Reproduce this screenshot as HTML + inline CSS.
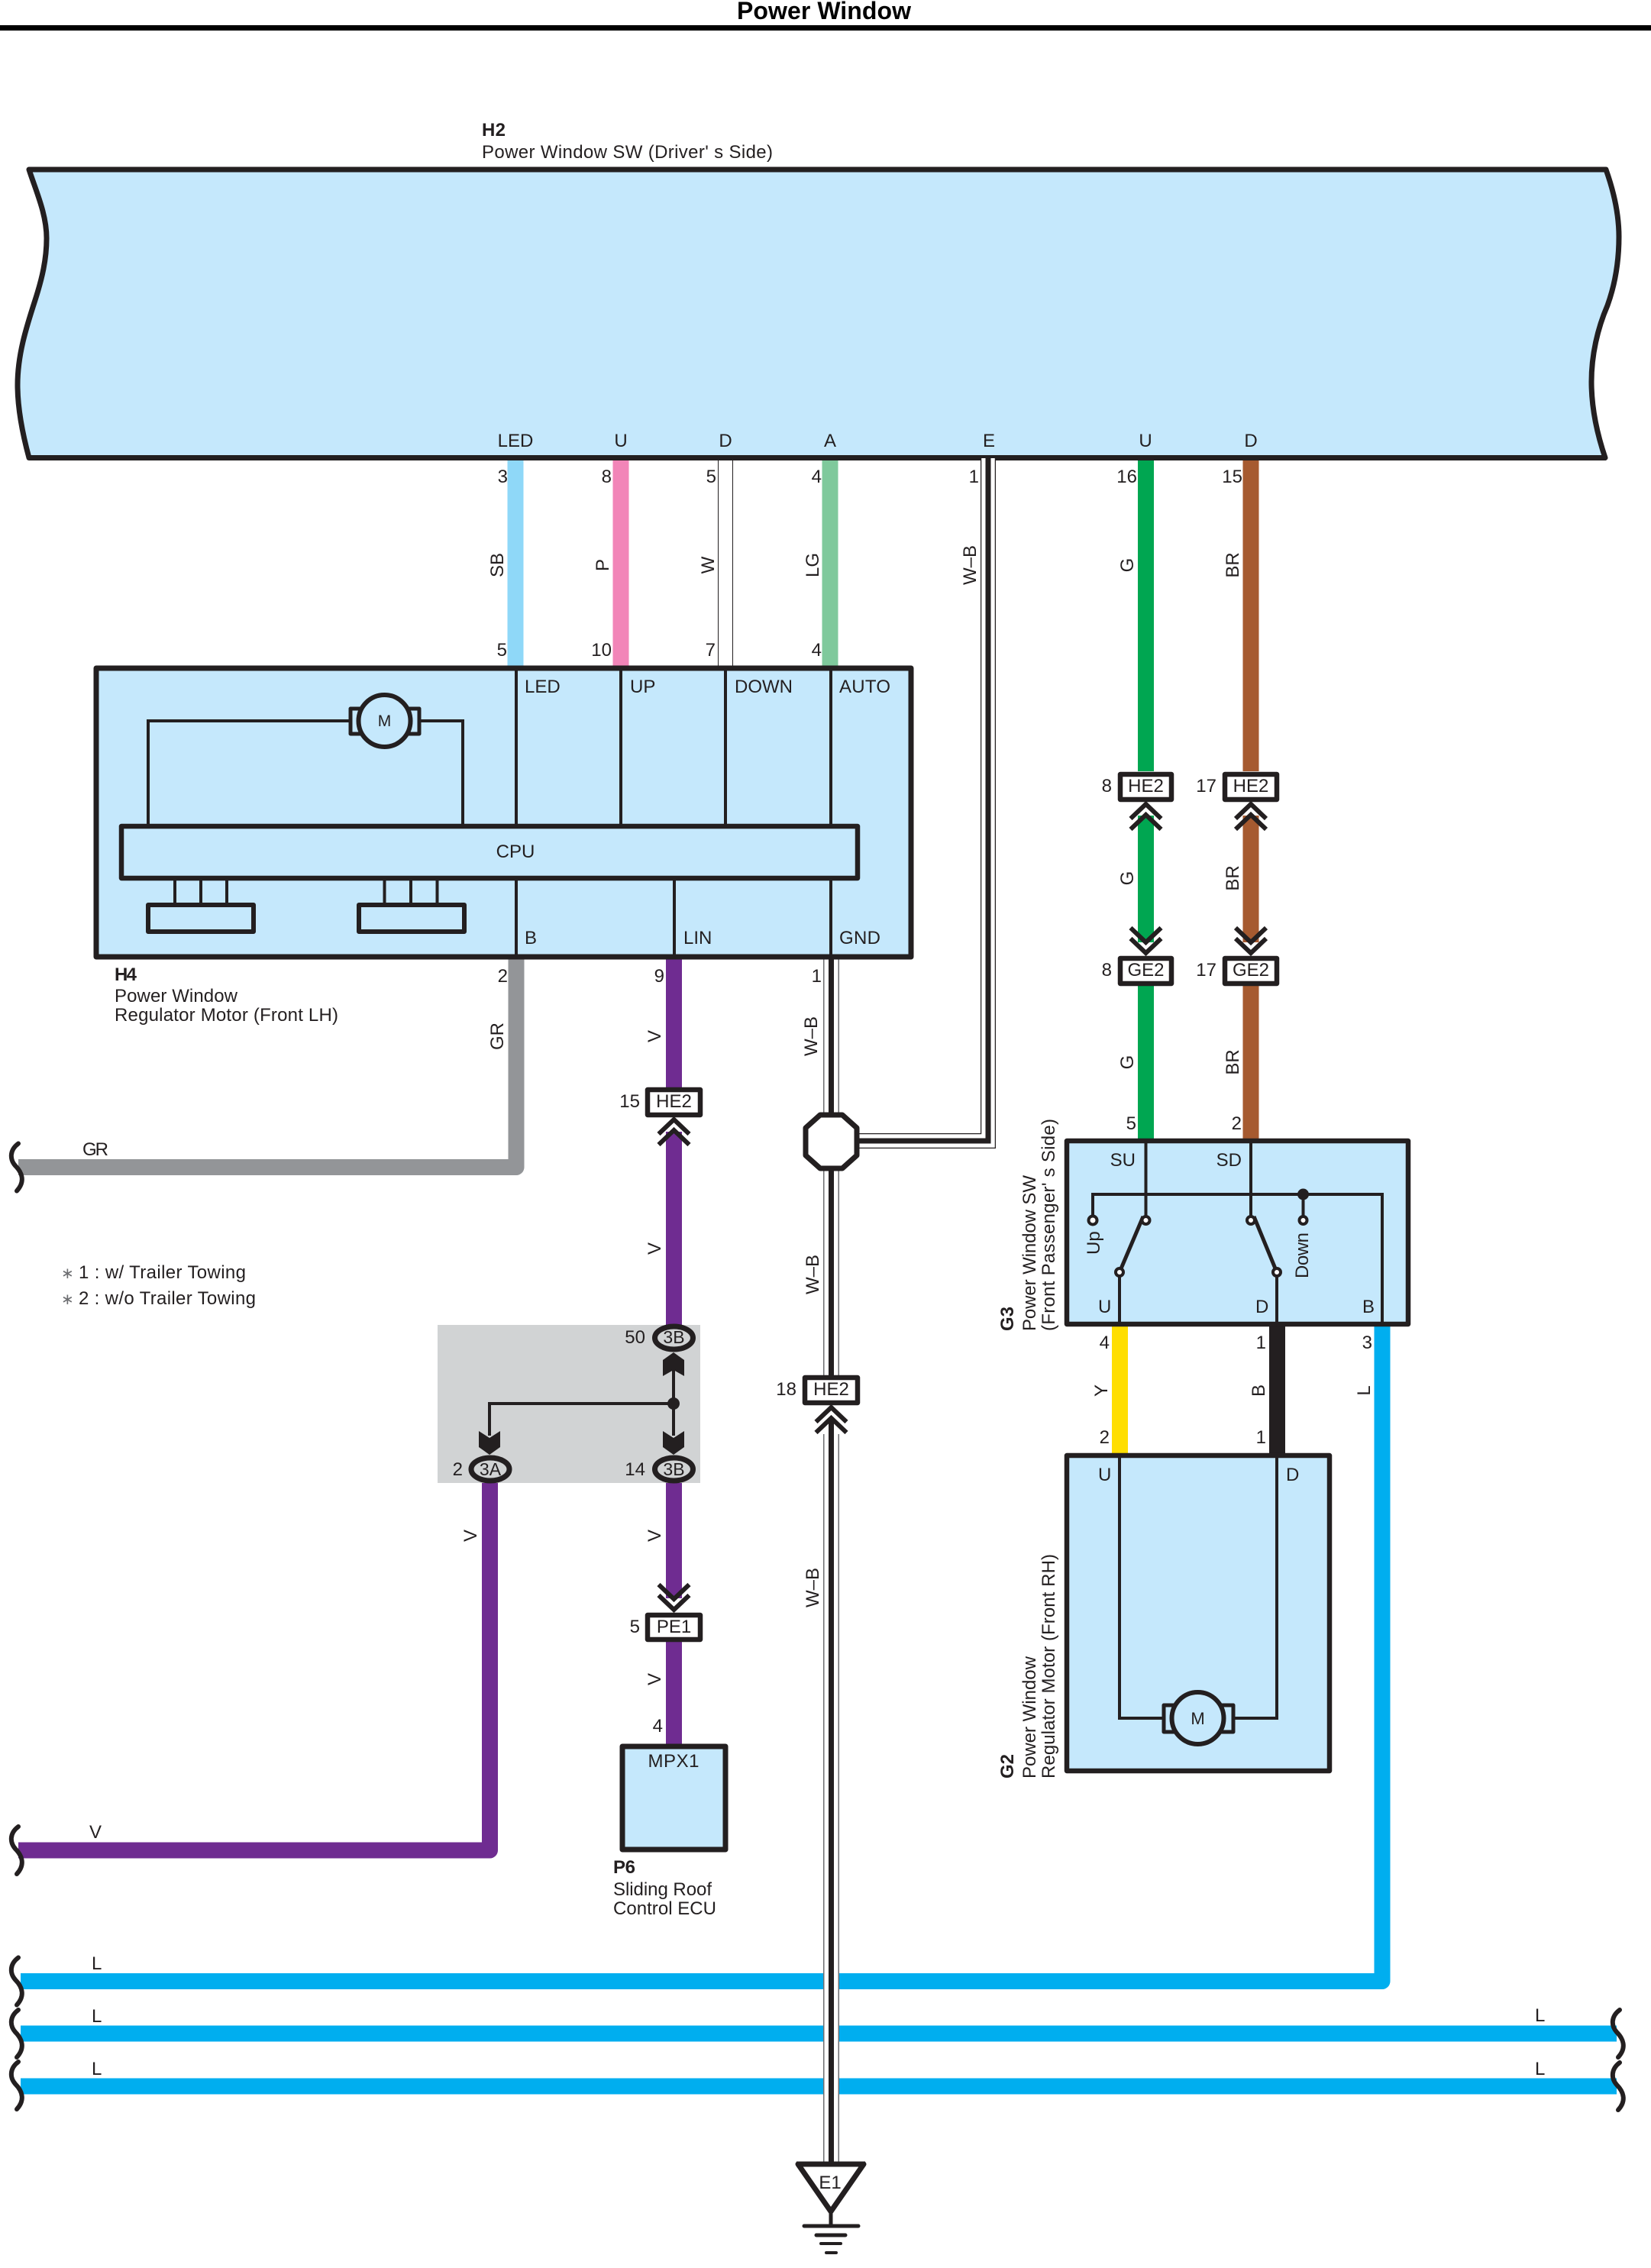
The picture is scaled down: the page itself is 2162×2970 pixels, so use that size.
<!DOCTYPE html>
<html>
<head>
<meta charset="utf-8">
<title>Power Window</title>
<style>
html,body{margin:0;padding:0;background:#fff}
svg{display:block}
text{font-family:"Liberation Sans",sans-serif;font-size:24px;fill:#231f20}
.m{text-anchor:middle}
.e{text-anchor:end}
.b{font-weight:bold}
.box{fill:#c5e8fc;stroke:#231f20;stroke-width:7;stroke-linejoin:round}
.ln{fill:none;stroke:#231f20;stroke-width:4}
.cn{fill:#fff;stroke:#231f20;stroke-width:6.5;stroke-linejoin:round}
.ov{fill:#d1d3d4;stroke:#231f20;stroke-width:7}
.w{fill:none;stroke-width:21;stroke-linejoin:round}
.sq{fill:none;stroke:#231f20;stroke-width:6;stroke-linecap:round}
.ch{fill:none;stroke:#231f20;stroke-width:6}
.t{fill:#fff;stroke:#231f20;stroke-width:4}
</style>
</head>
<body>
<svg xmlns="http://www.w3.org/2000/svg" width="2162" height="2970" viewBox="0 0 2162 2970">
<defs>
<path id="squig" d="M24 -31C12 -22 13 -10 20 -2C28 6 34 18 22 31"/>
<g id="chU"><path class="ch" d="M-20 20L0 1L20 20M-20 34L0 15L20 34"/></g>
<g id="chD"><path class="ch" d="M-20 -20L0 -1L20 -20M-20 -34L0 -15L20 -34"/></g>
<polygon id="arU" points="0,-2 14,8 14,29 0,21 -14,29 -14,8" fill="#231f20"/>
<polygon id="arD" points="-14,-1 0,8 14,-1 14,20 0,30 -14,20" fill="#231f20"/>
</defs>
<rect width="2162" height="2970" fill="#fff"/>

<!-- Title -->
<rect x="0" y="33" width="2162" height="7" fill="#000"/>
<text x="965" y="25" class="b" style="font-size:32px;fill:#000" textLength="228">Power Window</text>

<!-- H2 -->
<text x="631" y="178" class="b" textLength="31">H2</text>
<text x="631" y="207" textLength="381">Power Window SW (Driver' s Side)</text>
<path class="box" d="M38 222H2103C2113 250 2120 280 2120 310C2120 345 2114 375 2105 400C2092 430 2084 465 2084 500C2084 535 2092 570 2102 599.500H38C30 570 23 535 23 504C23 465 34 430 46 393C55 365 61 340 61 312C61 280 47 250 38 222Z"/>
<text x="675" y="585" class="m">LED</text>
<text x="813" y="585" class="m">U</text>
<text x="950" y="585" class="m">D</text>
<text x="1087" y="585" class="m">A</text>
<text x="1295" y="585" class="m">E</text>
<text x="1500" y="585" class="m">U</text>
<text x="1638" y="585" class="m">D</text>

<!-- Wires H2 to H4 -->
<line class="w" x1="675" y1="603" x2="675" y2="872" stroke="#8fd8f8"/>
<line class="w" x1="813" y1="603" x2="813" y2="872" stroke="#f285b8"/>
<line x1="950" y1="603" x2="950" y2="872" stroke="#231f20" stroke-width="20"/>
<line x1="950" y1="603" x2="950" y2="872" stroke="#fff" stroke-width="18"/>
<line class="w" x1="1087" y1="603" x2="1087" y2="872" stroke="#7fc99c"/>
<text x="665" y="632" class="e">3</text>
<text x="801" y="632" class="e">8</text>
<text x="938" y="632" class="e">5</text>
<text x="1076" y="632" class="e">4</text>
<text x="1282" y="632" class="e">1</text>
<text x="1489" y="632" class="e">16</text>
<text x="1627" y="632" class="e">15</text>
<text class="m" transform="translate(659,740) rotate(-90)">SB</text>
<text class="m" transform="translate(797,740) rotate(-90)">P</text>
<text class="m" transform="translate(935,740) rotate(-90)">W</text>
<text class="m" transform="translate(1072,740) rotate(-90)">LG</text>
<text class="m" transform="translate(1278,740) rotate(-90)">W–B</text>
<text class="m" transform="translate(1484,740) rotate(-90)">G</text>
<text class="m" transform="translate(1622,740) rotate(-90)">BR</text>
<text x="664" y="859" class="e">5</text>
<text x="801" y="859" class="e">10</text>
<text x="937" y="859" class="e">7</text>
<text x="1076" y="859" class="e">4</text>

<!-- Blue L bus -->
<path class="w" d="M27 2594.500H1810V1730" stroke="#00aeef"/>
<line class="w" x1="27" y1="2663" x2="2117" y2="2663" stroke="#00aeef"/>
<line class="w" x1="27" y1="2732" x2="2117" y2="2732" stroke="#00aeef"/>
<use href="#squig" class="sq" transform="translate(0,2594.500)"/>
<use href="#squig" class="sq" transform="translate(0,2663)"/>
<use href="#squig" class="sq" transform="translate(0,2731)"/>
<use href="#squig" class="sq" transform="translate(2097,2663)"/>
<use href="#squig" class="sq" transform="translate(2097,2732)"/>
<text x="120" y="2579">L</text>
<text x="120" y="2648">L</text>
<text x="120" y="2717">L</text>
<text x="2010" y="2647">L</text>
<text x="2010" y="2717">L</text>

<!-- GR / V left wires -->
<path class="w" d="M24 1528.500H676V1250" stroke="#939598"/>
<use href="#squig" class="sq" transform="translate(0,1528.500)"/>
<text x="108" y="1513" textLength="34">GR</text>
<path class="w" d="M24 2423H641.500V1940" stroke="#6f2c91"/>
<use href="#squig" class="sq" transform="translate(0,2423)"/>
<text x="117" y="2407">V</text>

<!-- V vertical wire -->
<line class="w" x1="882.500" y1="1250" x2="882.500" y2="1426" stroke="#6f2c91"/>
<line class="w" x1="882.500" y1="1482" x2="882.500" y2="1740" stroke="#6f2c91"/>
<line class="w" x1="882.500" y1="1940" x2="882.500" y2="2093" stroke="#6f2c91"/>
<line class="w" x1="882.500" y1="2146" x2="882.500" y2="2285" stroke="#6f2c91"/>

<!-- W-B wires -->
<g fill="none">
<path d="M1294 600V1494H1110" stroke="#231f20" stroke-width="20"/>
<path d="M1294 600V1494H1110" stroke="#fff" stroke-width="17.500"/>
<path d="M1294 600V1494H1110" stroke="#231f20" stroke-width="7"/>
<path d="M1088.500 1253V2834" stroke="#6d6e71" stroke-width="21"/>
<path d="M1088.500 1253V2834" stroke="#fff" stroke-width="18"/>
<path d="M1088.500 1253V2834" stroke="#231f20" stroke-width="7"/>
</g>
<polygon points="1074,1460 1103,1460 1122,1477 1122,1513 1103,1530 1074,1530 1055,1513 1055,1477" fill="#fff" stroke="#231f20" stroke-width="7" stroke-linejoin="round"/>

<!-- Right side wires -->
<line class="w" x1="1500.500" y1="603" x2="1500.500" y2="1010" stroke="#00a651"/>
<line class="w" x1="1500.500" y1="1068" x2="1500.500" y2="1234" stroke="#00a651"/>
<line class="w" x1="1500.500" y1="1290" x2="1500.500" y2="1494" stroke="#00a651"/>
<line class="w" x1="1638" y1="603" x2="1638" y2="1010" stroke="#a65a30"/>
<line class="w" x1="1638" y1="1068" x2="1638" y2="1234" stroke="#a65a30"/>
<line class="w" x1="1638" y1="1290" x2="1638" y2="1494" stroke="#a65a30"/>
<line class="w" x1="1466.500" y1="1734" x2="1466.500" y2="1906" stroke="#ffde00"/>
<line class="w" x1="1672.500" y1="1734" x2="1672.500" y2="1906" stroke="#231f20"/>

<!-- H4 -->
<rect class="box" x="126" y="875" width="1067" height="378"/>
<rect class="box" x="159" y="1082" width="964" height="68" style="stroke-width:6.500"/>
<g class="ln">
<path d="M676 875V1082M813 875V1082M950 875V1082M1088 875V1082"/>
<path d="M676 1150V1253M883 1150V1253M1088 1150V1253"/>
<path d="M194 1082V944H470M536 944H606V1082"/>
<path d="M229 1150V1184M263 1150V1184M297 1150V1184M503.500 1150V1184M538 1150V1184M572.500 1150V1184"/>
</g>
<rect class="box" x="194" y="1185" width="138" height="35" style="stroke-width:6"/>
<rect class="box" x="470" y="1185" width="138" height="35" style="stroke-width:6"/>
<rect class="box" x="459" y="928" width="90" height="33" style="stroke-width:5"/>
<circle cx="503.500" cy="944" r="34" class="box" style="stroke-width:6"/>
<text x="503.500" y="951" class="m" style="font-size:21px">M</text>
<text x="687" y="907">LED</text>
<text x="825" y="907">UP</text>
<text x="962" y="907" textLength="76">DOWN</text>
<text x="1099" y="907" textLength="67">AUTO</text>
<text x="675" y="1123" class="m">CPU</text>
<text x="687" y="1236">B</text>
<text x="895" y="1236">LIN</text>
<text x="1099" y="1236" textLength="54">GND</text>
<text x="150" y="1284" class="b" textLength="29">H4</text>
<text x="150" y="1312" textLength="161">Power Window</text>
<text x="150" y="1337" textLength="293">Regulator Motor (Front LH)</text>
<text x="665" y="1286" class="e">2</text>
<text x="870" y="1286" class="e">9</text>
<text x="1076" y="1286" class="e">1</text>
<text class="m" transform="translate(659,1357) rotate(-90)">GR</text>
<text class="m" transform="translate(865,1357) rotate(-90)">V</text>
<text class="m" transform="translate(1070,1357) rotate(-90)">W–B</text>

<!-- HE2 15 -->
<use href="#chU" transform="translate(882.500,1465)"/>
<rect class="cn" x="848" y="1427" width="69" height="33"/>
<text x="882.500" y="1450" class="m">HE2</text>
<text x="838" y="1450" class="e">15</text>
<text class="m" transform="translate(865,1635) rotate(-90)">V</text>

<!-- Notes -->
<text x="80" y="1674" style="font-size:20px;fill:#6d6e71">∗</text>
<text x="103" y="1674" textLength="219">1 : w/ Trailer Towing</text>
<text x="80" y="1708" style="font-size:20px;fill:#6d6e71">∗</text>
<text x="103" y="1708" textLength="232">2 : w/o Trailer Towing</text>

<!-- Gray junction block -->
<rect x="573" y="1735" width="344" height="207" fill="#d1d3d4"/>
<path class="ln" d="M882 1775V1880M882 1838H641V1880" style="stroke-width:4"/>
<circle cx="882" cy="1838" r="8" fill="#231f20"/>
<use href="#arU" transform="translate(882,1773)"/>
<use href="#arD" transform="translate(882,1875)"/>
<use href="#arD" transform="translate(641,1875)"/>
<ellipse class="ov" cx="882.500" cy="1752" rx="25" ry="15"/>
<ellipse class="ov" cx="882.500" cy="1924" rx="25" ry="15"/>
<ellipse class="ov" cx="642" cy="1924" rx="25" ry="15"/>
<text x="882.500" y="1759" class="m" style="font-size:23px">3B</text>
<text x="882.500" y="1932" class="m" style="font-size:23px">3B</text>
<text x="642" y="1932" class="m" style="font-size:23px">3A</text>
<text x="845" y="1759" class="e">50</text>
<text x="845" y="1932" class="e">14</text>
<text x="606" y="1932" class="e">2</text>

<!-- Lower V section -->
<text class="m" transform="translate(624,2011) rotate(-90)">V</text>
<text class="m" transform="translate(865,2011) rotate(-90)">V</text>
<use href="#chD" transform="translate(882.500,2109)"/>
<rect class="cn" x="848" y="2115" width="69" height="32"/>
<text x="882.500" y="2138" class="m">PE1</text>
<text x="838" y="2138" class="e">5</text>
<text class="m" transform="translate(865,2199) rotate(-90)">V</text>
<text x="868" y="2268" class="e">4</text>

<!-- MPX1 -->
<rect class="box" x="815" y="2287" width="135" height="135"/>
<text x="882" y="2314" class="m" textLength="67">MPX1</text>
<text x="803" y="2453" class="b" textLength="29">P6</text>
<text x="803" y="2482" textLength="129">Sliding Roof</text>
<text x="803" y="2507" textLength="135">Control ECU</text>

<!-- HE2 18 -->
<rect x="1076" y="1838" width="25" height="40" fill="#fff"/>
<rect x="1085" y="1856" width="7" height="24" fill="#231f20"/>
<use href="#chU" transform="translate(1088.500,1842)"/>
<rect class="cn" x="1054" y="1804" width="69" height="33"/>
<text x="1088.500" y="1827" class="m">HE2</text>
<text x="1043" y="1827" class="e">18</text>
<text class="m" transform="translate(1072,1669) rotate(-90)">W–B</text>
<text class="m" transform="translate(1072,2079) rotate(-90)">W–B</text>

<!-- Ground -->
<path d="M1045 2834H1131L1088 2896Z" fill="#fff" stroke="#231f20" stroke-width="7" stroke-linejoin="round"/>
<path d="M1043 2834H1133" stroke="#231f20" stroke-width="7"/>
<path d="M1088 2896V2915" stroke="#231f20" stroke-width="5"/>
<path d="M1053 2915H1124" stroke="#231f20" stroke-width="5" stroke-linecap="round"/>
<path d="M1069 2927H1107" stroke="#231f20" stroke-width="5" stroke-linecap="round"/>
<path d="M1075 2938H1101" stroke="#231f20" stroke-width="4" stroke-linecap="round"/>
<path d="M1082 2950H1095" stroke="#231f20" stroke-width="4" stroke-linecap="round"/>
<text x="1087" y="2866" class="m">E1</text>

<!-- Connectors right side -->
<use href="#chU" transform="translate(1500.500,1052)"/>
<use href="#chU" transform="translate(1638,1052)"/>
<use href="#chD" transform="translate(1500.500,1249)"/>
<use href="#chD" transform="translate(1638,1249)"/>
<rect class="cn" x="1467" y="1014" width="67" height="33"/>
<rect class="cn" x="1604" y="1014" width="68" height="33"/>
<rect class="cn" x="1467" y="1255" width="67" height="33"/>
<rect class="cn" x="1604" y="1255" width="68" height="33"/>
<text x="1500.500" y="1037" class="m">HE2</text>
<text x="1638" y="1037" class="m">HE2</text>
<text x="1500.500" y="1278" class="m">GE2</text>
<text x="1638" y="1278" class="m">GE2</text>
<text x="1456" y="1037" class="e">8</text>
<text x="1593" y="1037" class="e">17</text>
<text x="1456" y="1278" class="e">8</text>
<text x="1593" y="1278" class="e">17</text>
<text class="m" transform="translate(1484,1150) rotate(-90)">G</text>
<text class="m" transform="translate(1622,1150) rotate(-90)">BR</text>
<text class="m" transform="translate(1484,1391) rotate(-90)">G</text>
<text class="m" transform="translate(1622,1391) rotate(-90)">BR</text>
<text x="1488" y="1479" class="e">5</text>
<text x="1626" y="1479" class="e">2</text>

<!-- G3 -->
<rect class="box" x="1397" y="1494" width="447" height="240" style="stroke-width:6.500"/>
<g class="ln">
<path d="M1500.500 1494V1598M1638 1494V1598"/>
<path d="M1431 1598V1564H1810V1734"/>
<path d="M1706.500 1564V1598"/>
<path d="M1466 1666V1734M1672 1666V1734"/>
<path d="M1497 1593L1466 1666M1642 1593L1672 1666" style="stroke-width:5"/>
</g>
<circle cx="1706.500" cy="1564" r="7.500" fill="#231f20"/>
<circle class="t" cx="1431" cy="1598" r="5.500"/>
<circle class="t" cx="1706.500" cy="1598" r="5"/>
<circle class="t" cx="1500.500" cy="1598" r="5"/>
<circle class="t" cx="1638" cy="1598" r="5"/>
<circle class="t" cx="1466" cy="1666" r="5"/>
<circle class="t" cx="1672" cy="1666" r="5"/>
<text x="1487" y="1527" class="e">SU</text>
<text x="1626" y="1527" class="e">SD</text>
<text x="1438" y="1719">U</text>
<text x="1644" y="1719">D</text>
<text x="1784" y="1719">B</text>
<text transform="translate(1440,1643) rotate(-90)">Up</text>
<text transform="translate(1713,1674) rotate(-90)" textLength="60">Down</text>
<text class="b" transform="translate(1327,1743) rotate(-90)" textLength="32">G3</text>
<text transform="translate(1356,1743) rotate(-90)" textLength="204">Power Window SW</text>
<text transform="translate(1381,1743) rotate(-90)" textLength="278">(Front Passenger' s Side)</text>

<!-- G3 to G2 labels -->
<text x="1453" y="1766" class="e">4</text>
<text x="1658" y="1766" class="e">1</text>
<text x="1797" y="1766" class="e">3</text>
<text class="m" transform="translate(1450,1821) rotate(-90)">Y</text>
<text class="m" transform="translate(1656,1821) rotate(-90)">B</text>
<text class="m" transform="translate(1794,1821) rotate(-90)">L</text>
<text x="1453" y="1890" class="e">2</text>
<text x="1658" y="1890" class="e">1</text>

<!-- G2 -->
<rect class="box" x="1397" y="1906" width="344" height="413" style="stroke-width:6.500"/>
<path class="ln" d="M1466 1906V2250H1530M1608 2250H1672V1906"/>
<rect class="box" x="1524" y="2233" width="91" height="35" style="stroke-width:5"/>
<circle cx="1568.500" cy="2250" r="34" class="box" style="stroke-width:6"/>
<text x="1568.500" y="2258" class="m" style="font-size:22px">M</text>
<text x="1438" y="1939">U</text>
<text x="1684" y="1939">D</text>
<text class="b" transform="translate(1327,2329) rotate(-90)" textLength="32">G2</text>
<text transform="translate(1356,2329) rotate(-90)" textLength="160">Power Window</text>
<text transform="translate(1381,2329) rotate(-90)" textLength="294">Regulator Motor (Front RH)</text>
</svg>
</body>
</html>
